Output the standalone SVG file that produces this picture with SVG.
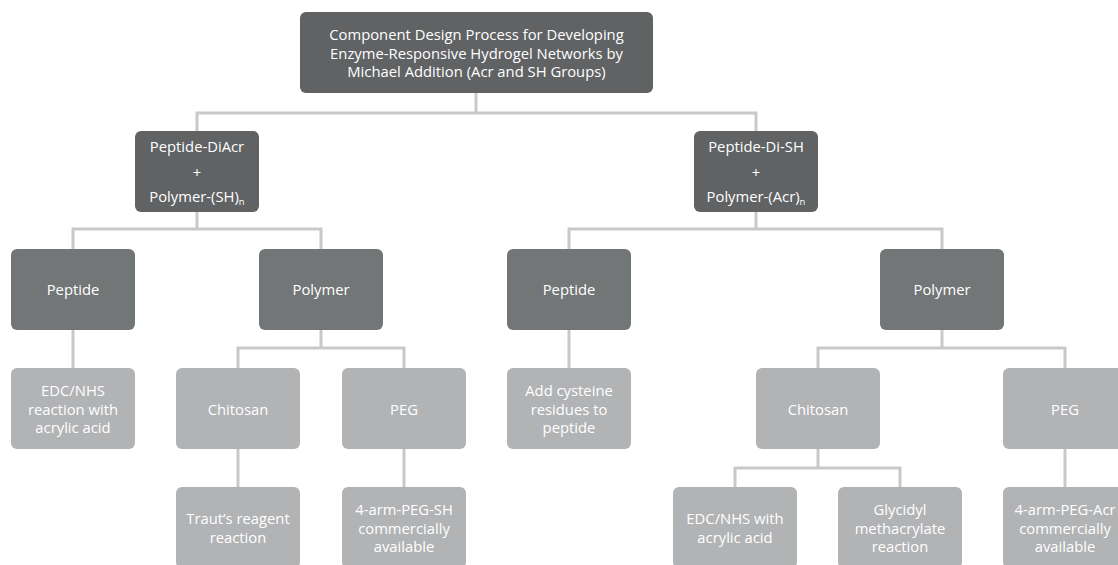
<svg xmlns="http://www.w3.org/2000/svg" width="1118" height="565" viewBox="0 0 1118 565">
<style>
text{font-family:"Open Sans","Liberation Sans",sans-serif;font-size:14.8px;fill:#ffffff;text-anchor:middle}
.d{fill:#606264}
.m{fill:#737677}
.l{fill:#b2b3b5}
.c{fill:none;stroke:#c9c9c9;stroke-width:3}
</style>
<rect width="1118" height="565" fill="#ffffff"/>
<g id="connectors">
<path class="c" d="M476 93V113M197 131V113H756V131"/>
<path class="c" d="M197 212V229M73 249V229H321V249"/>
<path class="c" d="M756 212V229M569 249V229H942V249"/>
<path class="c" d="M73 330V368"/>
<path class="c" d="M321 330V348M238 368V348H404V368"/>
<path class="c" d="M238 449V487M404 449V487"/>
<path class="c" d="M569 330V368"/>
<path class="c" d="M942 330V348M818 368V348H1065V368"/>
<path class="c" d="M818 449V468M735 487V468H900V487"/>
<path class="c" d="M1065 449V487"/>
</g>
<g id="root"><rect class="d" x="300" y="12" width="353" height="81" rx="6"/>
<text x="476.5" y="40">Component Design Process for Developing</text>
<text x="476.5" y="58.5">Enzyme-Responsive Hydrogel Networks by</text>
<text x="476.5" y="77">Michael Addition (Acr and SH Groups)</text></g>
<g id="diacr"><rect class="d" x="135" y="131" width="124" height="81" rx="6"/>
<text x="197" y="152">Peptide-DiAcr</text><text x="197" y="178">+</text>
<text x="197" y="202">Polymer-(SH)<tspan font-size="9.5" dy="3">n</tspan></text></g>
<g id="disH"><rect class="d" x="694" y="131" width="124" height="81" rx="6"/>
<text x="756" y="152">Peptide-Di-SH</text><text x="756" y="178">+</text>
<text x="756" y="202">Polymer-(Acr)<tspan font-size="9.5" dy="3">n</tspan></text></g>
<g id="peptideL"><rect class="m" x="11" y="249" width="124" height="81" rx="6"/><text x="73" y="295">Peptide</text></g>
<g id="polymerL"><rect class="m" x="259" y="249" width="124" height="81" rx="6"/><text x="321" y="295">Polymer</text></g>
<g id="peptideR"><rect class="m" x="507" y="249" width="124" height="81" rx="6"/><text x="569" y="295">Peptide</text></g>
<g id="polymerR"><rect class="m" x="880" y="249" width="124" height="81" rx="6"/><text x="942" y="295">Polymer</text></g>
<g id="edcL"><rect class="l" x="11" y="368" width="124" height="81" rx="6"/>
<text x="73" y="396">EDC/NHS</text><text x="73" y="414.5">reaction with</text><text x="73" y="433">acrylic acid</text></g>
<g id="chitosanL"><rect class="l" x="176" y="368" width="124" height="81" rx="6"/><text x="238" y="415">Chitosan</text></g>
<g id="pegL"><rect class="l" x="342" y="368" width="124" height="81" rx="6"/><text x="404" y="415">PEG</text></g>
<g id="cysteine"><rect class="l" x="507" y="368" width="124" height="81" rx="6"/>
<text x="569" y="396">Add cysteine</text><text x="569" y="414.5">residues to</text><text x="569" y="433">peptide</text></g>
<g id="chitosanR"><rect class="l" x="756" y="368" width="124" height="81" rx="6"/><text x="818" y="415">Chitosan</text></g>
<g id="pegR"><rect class="l" x="1003" y="368" width="124" height="81" rx="6"/><text x="1065" y="415">PEG</text></g>
<g id="traut"><rect class="l" x="176" y="487" width="124" height="81" rx="6"/>
<text x="238" y="524">Traut’s reagent</text><text x="238" y="542.5">reaction</text></g>
<g id="pegSH"><rect class="l" x="342" y="487" width="124" height="81" rx="6"/>
<text x="404" y="515">4-arm-PEG-SH</text><text x="404" y="533.5">commercially</text><text x="404" y="552">available</text></g>
<g id="edcR"><rect class="l" x="673" y="487" width="124" height="81" rx="6"/>
<text x="735" y="524">EDC/NHS with</text><text x="735" y="542.5">acrylic acid</text></g>
<g id="glycidyl"><rect class="l" x="838" y="487" width="124" height="81" rx="6"/>
<text x="900" y="515">Glycidyl</text><text x="900" y="533.5">methacrylate</text><text x="900" y="552">reaction</text></g>
<g id="pegAcr"><rect class="l" x="1003" y="487" width="124" height="81" rx="6"/>
<text x="1065" y="515">4-arm-PEG-Acr</text><text x="1065" y="533.5">commercially</text><text x="1065" y="552">available</text></g>
</svg>
